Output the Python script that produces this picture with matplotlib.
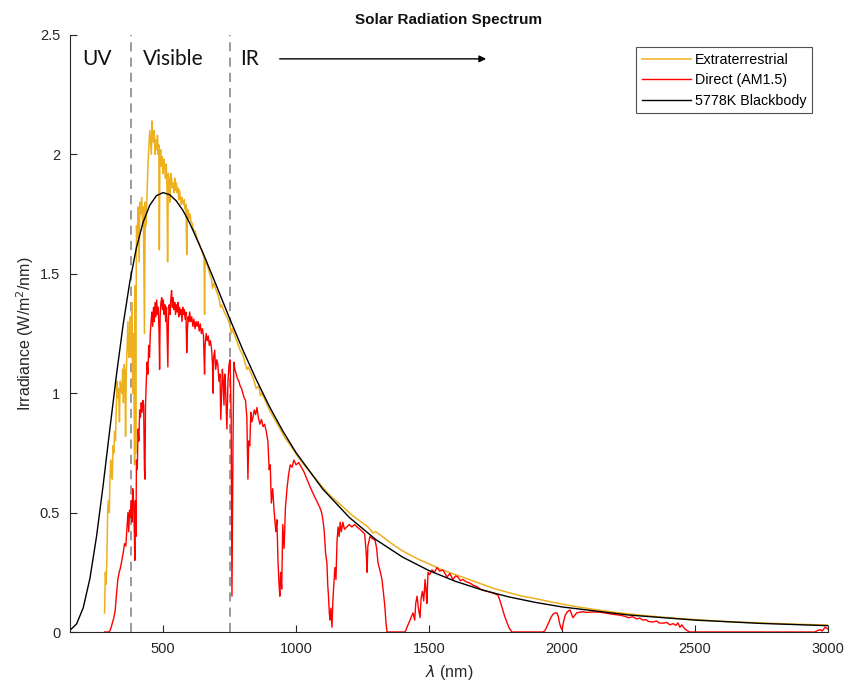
from matplotlib import pyplot as plt
import numpy as np

plt.rcParams["font.family"] = ["Liberation Sans", "DejaVu Sans"]

# wavelength (nm), irradiance (W/m2/nm)
extraterrestrial = [
    (280, 0.08), (283, 0.25), (286, 0.20), (289, 0.32), (292, 0.52), (295, 0.55),
    (298, 0.50), (300, 0.62), (303, 0.72), (306, 0.70), (309, 0.64), (312, 0.78),
    (315, 0.75), (318, 0.84), (321, 0.80), (324, 0.92), (327, 1.05), (330, 0.98),
    (333, 1.02), (336, 0.88), (339, 1.05), (342, 1.02), (345, 1.00), (348, 1.10),
    (351, 0.96), (354, 1.12), (357, 1.08), (359, 0.82), (362, 1.10), (365, 1.20),
    (368, 1.30), (371, 1.15), (374, 1.22), (377, 1.32), (380, 1.15), (383, 1.38),
    (386, 1.00), (389, 1.25), (393, 0.70), (395, 1.45), (397, 0.75), (400, 1.70),
    (403, 1.65), (406, 1.78), (410, 1.55), (413, 1.80), (416, 1.75), (420, 1.82),
    (423, 1.70), (426, 1.78), (430, 1.25), (433, 1.80), (436, 1.70), (440, 1.85),
    (443, 1.95), (446, 2.02), (450, 2.10), (453, 2.05), (456, 2.00), (458, 2.14),
    (461, 2.08), (464, 2.05), (467, 2.10), (470, 2.00), (473, 2.06), (476, 2.02),
    (479, 2.08), (482, 2.00), (484, 2.04), (486, 1.60), (488, 1.98), (491, 2.02),
    (494, 1.95), (497, 1.99), (500, 1.92), (503, 1.98), (506, 1.95), (509, 1.90),
    (512, 1.96), (515, 1.85), (517, 1.55), (520, 1.92), (523, 1.88), (526, 1.80),
    (529, 1.92), (532, 1.90), (535, 1.86), (538, 1.88), (541, 1.84), (544, 1.90),
    (547, 1.85), (550, 1.88), (553, 1.84), (556, 1.86), (559, 1.81), (562, 1.85),
    (565, 1.82), (568, 1.79), (571, 1.82), (574, 1.80), (577, 1.79), (580, 1.81),
    (583, 1.77), (586, 1.79), (589, 1.58), (592, 1.77), (595, 1.76), (598, 1.73),
    (601, 1.75), (605, 1.72), (610, 1.71), (615, 1.68), (620, 1.68), (625, 1.66),
    (630, 1.64), (635, 1.63), (640, 1.61), (645, 1.60), (650, 1.58), (654, 1.57),
    (656, 1.33), (658, 1.56), (662, 1.55), (668, 1.53), (675, 1.50), (682, 1.48),
    (686, 1.44), (690, 1.46), (700, 1.43), (710, 1.40), (716, 1.36), (720, 1.37),
    (730, 1.34), (740, 1.32), (750, 1.29), (757, 1.25), (760, 1.27), (770, 1.24),
    (780, 1.21), (790, 1.18), (800, 1.16), (815, 1.10), (820, 1.11), (840, 1.06),
    (850, 1.02), (860, 1.03), (866, 0.99), (870, 1.00), (880, 0.98), (900, 0.93),
    (920, 0.89), (940, 0.85), (960, 0.81), (980, 0.78), (1000, 0.745), (1030, 0.70),
    (1060, 0.66), (1090, 0.62), (1120, 0.58), (1150, 0.55), (1180, 0.52), (1210, 0.49),
    (1240, 0.465), (1270, 0.44), (1290, 0.415), (1300, 0.42), (1330, 0.395), (1360, 0.37),
    (1400, 0.34), (1450, 0.31), (1500, 0.285), (1550, 0.26), (1600, 0.24), (1650, 0.22),
    (1700, 0.20), (1750, 0.18), (1800, 0.165), (1850, 0.15), (1900, 0.14), (1950, 0.128),
    (2000, 0.117), (2050, 0.107), (2100, 0.098), (2150, 0.09), (2200, 0.082), (2300, 0.07),
    (2400, 0.06), (2500, 0.052), (2600, 0.045), (2700, 0.04), (2800, 0.036), (2900, 0.032),
    (3000, 0.029),
]

direct_am15 = [
    (280, 0.0), (295, 0.0), (300, 0.005), (305, 0.02), (310, 0.04), (315, 0.06),
    (320, 0.09), (325, 0.16), (330, 0.22), (335, 0.25), (340, 0.27), (345, 0.30),
    (350, 0.33), (355, 0.37), (360, 0.36), (365, 0.45), (368, 0.50), (371, 0.42),
    (374, 0.51), (377, 0.48), (380, 0.55), (383, 0.46), (386, 0.60), (389, 0.55),
    (392, 0.42), (394, 0.30), (396, 0.55), (398, 0.40), (400, 0.72), (403, 0.68),
    (406, 0.85), (409, 0.80), (412, 0.93), (415, 0.90), (418, 0.96), (421, 0.92),
    (424, 0.97), (427, 0.95), (430, 0.68), (432, 0.64), (434, 0.95), (437, 1.05),
    (440, 1.13), (443, 1.08), (446, 1.20), (449, 1.15), (452, 1.25), (455, 1.30),
    (458, 1.34), (461, 1.28), (464, 1.36), (467, 1.30), (470, 1.38), (473, 1.32),
    (476, 1.39), (479, 1.33), (482, 1.36), (485, 1.25), (487, 1.10), (489, 1.32),
    (492, 1.38), (495, 1.40), (498, 1.35), (501, 1.39), (504, 1.33), (507, 1.37),
    (510, 1.30), (513, 1.36), (516, 1.22), (518, 1.11), (520, 1.30), (523, 1.37),
    (526, 1.33), (529, 1.39), (532, 1.43), (535, 1.36), (538, 1.40), (541, 1.35),
    (544, 1.38), (547, 1.33), (550, 1.37), (553, 1.34), (556, 1.38), (559, 1.32),
    (562, 1.36), (565, 1.33), (568, 1.35), (571, 1.30), (574, 1.36), (577, 1.33),
    (580, 1.35), (583, 1.31), (586, 1.34), (589, 1.17), (591, 1.25), (594, 1.32),
    (597, 1.30), (600, 1.34), (604, 1.30), (608, 1.32), (612, 1.28), (616, 1.31),
    (620, 1.27), (624, 1.30), (628, 1.28), (632, 1.30), (636, 1.26), (640, 1.29),
    (644, 1.25), (648, 1.27), (652, 1.24), (656, 1.08), (658, 1.20), (662, 1.25),
    (666, 1.22), (670, 1.24), (674, 1.20), (678, 1.22), (682, 1.19), (686, 1.12),
    (688, 1.00), (690, 1.15), (694, 1.18), (698, 1.10), (702, 1.14), (706, 1.12),
    (710, 1.05), (714, 1.08), (717, 0.89), (720, 1.00), (723, 1.10), (726, 1.05),
    (729, 0.95), (732, 1.08), (735, 1.02), (740, 0.85), (744, 1.05), (748, 1.12),
    (752, 1.14), (756, 0.90), (759, 0.15), (761, 0.45), (763, 0.80), (766, 1.13),
    (770, 1.10), (775, 1.08), (780, 1.06), (785, 1.05), (790, 1.03), (795, 1.02),
    (800, 1.00), (805, 0.98), (810, 0.97), (815, 0.90), (819, 0.64), (822, 0.80),
    (826, 0.78), (830, 0.92), (834, 0.88), (838, 0.90), (843, 0.93), (848, 0.91),
    (853, 0.94), (858, 0.90), (864, 0.87), (870, 0.89), (876, 0.86), (882, 0.87),
    (888, 0.84), (894, 0.80), (899, 0.68), (903, 0.70), (907, 0.54), (912, 0.60),
    (918, 0.50), (924, 0.42), (928, 0.47), (932, 0.30), (936, 0.20), (939, 0.15),
    (942, 0.25), (946, 0.18), (950, 0.45), (955, 0.35), (960, 0.52), (966, 0.60),
    (972, 0.66), (978, 0.70), (985, 0.69), (992, 0.72), (1000, 0.70), (1010, 0.71),
    (1020, 0.69), (1030, 0.67), (1041, 0.64), (1052, 0.61), (1064, 0.58), (1077, 0.55),
    (1090, 0.52), (1096, 0.50), (1101, 0.47), (1106, 0.42), (1111, 0.33), (1116, 0.29),
    (1119, 0.20), (1122, 0.15), (1125, 0.08), (1128, 0.05), (1131, 0.10), (1135, 0.02),
    (1138, 0.12), (1141, 0.18), (1146, 0.27), (1150, 0.22), (1154, 0.38), (1158, 0.44),
    (1162, 0.40), (1166, 0.46), (1170, 0.42), (1176, 0.46), (1182, 0.43), (1191, 0.44),
    (1200, 0.45), (1210, 0.44), (1220, 0.45), (1229, 0.44), (1240, 0.43), (1250, 0.42),
    (1258, 0.41), (1264, 0.33), (1267, 0.25), (1270, 0.36), (1278, 0.40), (1288, 0.39),
    (1297, 0.385), (1303, 0.35), (1308, 0.29), (1315, 0.26), (1323, 0.22), (1329, 0.16),
    (1334, 0.105), (1338, 0.04), (1342, 0.0), (1408, 0.0), (1412, 0.005), (1417, 0.02),
    (1425, 0.04), (1432, 0.06), (1440, 0.08), (1446, 0.05), (1450, 0.12), (1455, 0.15),
    (1460, 0.10), (1466, 0.06), (1470, 0.14), (1475, 0.17), (1480, 0.13), (1485, 0.22),
    (1489, 0.17), (1492, 0.12), (1496, 0.25), (1502, 0.24), (1511, 0.26), (1520, 0.25),
    (1530, 0.27), (1540, 0.255), (1552, 0.26), (1560, 0.245), (1568, 0.23), (1578, 0.245),
    (1590, 0.22), (1600, 0.235), (1609, 0.23), (1618, 0.215), (1627, 0.22), (1640, 0.21),
    (1654, 0.205), (1667, 0.195), (1680, 0.19), (1692, 0.18), (1703, 0.175), (1720, 0.17),
    (1740, 0.163), (1759, 0.155), (1767, 0.13), (1774, 0.105), (1783, 0.07), (1793, 0.04),
    (1802, 0.015), (1812, 0.0), (1928, 0.0), (1935, 0.005), (1942, 0.02), (1950, 0.04),
    (1958, 0.06), (1966, 0.075), (1974, 0.08), (1981, 0.08), (1986, 0.065), (1990, 0.04),
    (1995, 0.02), (2000, 0.01), (2005, 0.04), (2012, 0.07), (2020, 0.085), (2030, 0.092),
    (2036, 0.075), (2041, 0.06), (2048, 0.07), (2055, 0.08), (2067, 0.083), (2080, 0.085),
    (2090, 0.082), (2105, 0.083), (2120, 0.084), (2142, 0.083), (2160, 0.08), (2180, 0.076),
    (2206, 0.072), (2220, 0.07), (2235, 0.066), (2250, 0.06), (2266, 0.064), (2280, 0.055),
    (2292, 0.058), (2304, 0.05), (2315, 0.052), (2325, 0.044), (2342, 0.042), (2355, 0.046),
    (2365, 0.038), (2380, 0.037), (2395, 0.04), (2405, 0.03), (2417, 0.035), (2428, 0.028),
    (2436, 0.038), (2443, 0.02), (2450, 0.03), (2460, 0.015), (2470, 0.006), (2481, 0.0),
    (2950, 0.0), (2960, 0.006), (2970, 0.01), (2978, 0.004), (2989, 0.02), (3000, 0.012),
]

blackbody = [
    (150, 0.007), (175, 0.034), (200, 0.102), (225, 0.224), (250, 0.401), (275, 0.617),
    (300, 0.850), (325, 1.078), (350, 1.288), (375, 1.466), (400, 1.610), (425, 1.716),
    (450, 1.787), (475, 1.827), (500, 1.840), (525, 1.831), (550, 1.805), (575, 1.765),
    (600, 1.713), (650, 1.588), (700, 1.452), (750, 1.314), (800, 1.181), (850, 1.058),
    (900, 0.944), (950, 0.842), (1000, 0.751), (1100, 0.599), (1200, 0.480), (1300, 0.387),
    (1400, 0.314), (1500, 0.257), (1600, 0.212), (1700, 0.176), (1800, 0.147), (1900, 0.124),
    (2000, 0.105), (2250, 0.0712), (2500, 0.0499), (2750, 0.0359), (3000, 0.0265),
]

region_edges = [380, 750]
region_labels = [("UV", 195), ("Visible", 424), ("IR", 789)]
xticks = [500, 1000, 1500, 2000, 2500, 3000]
yticks = [0, 0.5, 1, 1.5, 2, 2.5]
ytick_labels = ["0", "0.5", "1", "1.5", "2", "2.5"]

fig = plt.figure(figsize=(8.47, 6.86), dpi=100)
ax = fig.add_axes([0.0826, 0.0787, 0.8950, 0.8703])

for e in region_edges:
    ax.plot([e, e], [0, 2.5], color="#7f7f7f", linestyle=(0, (6, 4)), linewidth=1.1)

etr = np.array(extraterrestrial).T
am15 = np.array(direct_am15).T
bb = np.array(blackbody).T
ax.plot(etr[0], etr[1], color="#EDB120", linewidth=1.1, label="Extraterrestrial")
ax.plot(am15[0], am15[1], color="#FF0000", linewidth=1.0, label="Direct (AM1.5)")
ax.plot(bb[0], bb[1], color="#000000", linewidth=1.0, label="5778K Blackbody")

for txt, x in region_labels:
    ax.text(x, 2.40, txt, fontsize=15, family=["Lato", "DejaVu Sans"], va="center", ha="left", color="#111111")
ax.annotate("", xy=(1725, 2.40), xytext=(928, 2.40),
            arrowprops=dict(arrowstyle="-|>", color="black", lw=1.0, mutation_scale=10))

ax.set_xlim(150, 3000)
ax.set_ylim(0, 2.5)
ax.set_xticks(xticks)
ax.set_yticks(yticks)
ax.set_yticklabels(ytick_labels)
ax.tick_params(direction="in", length=5, width=0.8, colors="#262626", labelsize=10.5, pad=7)
for s in ["top", "right"]:
    ax.spines[s].set_visible(False)
for s in ["left", "bottom"]:
    ax.spines[s].set_color("#262626")
    ax.spines[s].set_linewidth(0.8)

ax.set_xlabel(r"$\lambda$ (nm)", fontsize=11.5, color="#262626", labelpad=5)
ax.set_ylabel(r"Irradiance (W/m$^2$/nm)", fontsize=11.5, color="#262626", labelpad=3)
ax.set_title("Solar Radiation Spectrum", fontsize=11, fontweight="bold", color="#111111", pad=8)

leg = ax.legend(loc="upper right", bbox_to_anchor=(0.979, 0.98), borderaxespad=0,
                fontsize=10.3, frameon=True, fancybox=False, handlelength=3.4,
                handletextpad=0.3, borderpad=0.4, labelspacing=0.45)
leg.get_frame().set_edgecolor("#262626")
leg.get_frame().set_linewidth(0.8)

plt.savefig("out.png", dpi=100)
